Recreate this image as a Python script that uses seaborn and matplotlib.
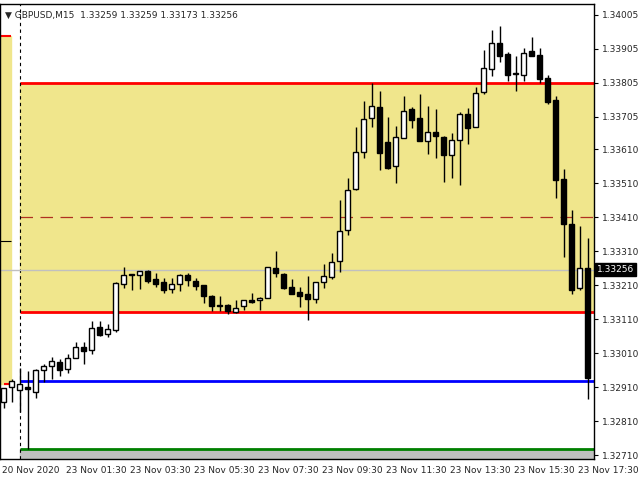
import numpy as np
import matplotlib
matplotlib.use("Agg")
import matplotlib.pyplot as plt
import seaborn as sns

# ── Data ───────────────────────────────────────────────────────────────────────
opens = [1.32867, 1.32911, 1.32903, 1.32911, 1.32895, 1.32960, 1.32972, 1.32984, 1.32963, 1.32995,
         1.33029, 1.33019, 1.33087, 1.33068, 1.33079, 1.33214, 1.33239, 1.33239, 1.33253, 1.33229,
         1.33219, 1.33198, 1.33214, 1.33239, 1.33223, 1.33210, 1.33179, 1.33150, 1.33151, 1.33132,
         1.33148, 1.33167, 1.33167, 1.33171, 1.33260, 1.33242, 1.33205, 1.33190, 1.33184, 1.33169,
         1.33219, 1.33234, 1.33282, 1.33372, 1.33492, 1.33601, 1.33701, 1.33734, 1.33631, 1.33560,
         1.33642, 1.33729, 1.33702, 1.33635, 1.33660, 1.33647, 1.33594, 1.33636, 1.33713, 1.33674,
         1.33778, 1.33845, 1.33922, 1.33890, 1.33831, 1.33829, 1.33899, 1.33887, 1.33819, 1.33755,
         1.33523, 1.33390, 1.33201, 1.33260]
highs = [1.32908, 1.32934, 1.32968, 1.32958, 1.32965, 1.32978, 1.32999, 1.32993, 1.33009, 1.33043,
         1.33043, 1.33105, 1.33105, 1.33097, 1.33220, 1.33264, 1.33242, 1.33252, 1.33255, 1.33245,
         1.33232, 1.33232, 1.33244, 1.33245, 1.33232, 1.33210, 1.33181, 1.33179, 1.33155, 1.33167,
         1.33166, 1.33187, 1.33175, 1.33263, 1.33311, 1.33245, 1.33229, 1.33206, 1.33238, 1.33219,
         1.33272, 1.33304, 1.33461, 1.33525, 1.33676, 1.33752, 1.33805, 1.33781, 1.33705, 1.33679,
         1.33766, 1.33734, 1.33772, 1.33737, 1.33729, 1.33650, 1.33659, 1.33720, 1.33732, 1.33792,
         1.33902, 1.33961, 1.33973, 1.33895, 1.33884, 1.33907, 1.33940, 1.33907, 1.33829, 1.33767,
         1.33552, 1.33432, 1.33385, 1.33349]
lows = [1.32849, 1.32867, 1.32837, 1.32728, 1.32877, 1.32925, 1.32935, 1.32944, 1.32953, 1.32995,
        1.32977, 1.33009, 1.33061, 1.33058, 1.33071, 1.33203, 1.33197, 1.33200, 1.33218, 1.33206,
        1.33188, 1.33188, 1.33194, 1.33209, 1.33196, 1.33157, 1.33134, 1.33134, 1.33124, 1.33128,
        1.33137, 1.33159, 1.33137, 1.33171, 1.33235, 1.33198, 1.33184, 1.33147, 1.33109, 1.33159,
        1.33203, 1.33228, 1.33250, 1.33357, 1.33490, 1.33585, 1.33676, 1.33549, 1.33553, 1.33512,
        1.33642, 1.33671, 1.33634, 1.33597, 1.33585, 1.33515, 1.33524, 1.33506, 1.33625, 1.33674,
        1.33771, 1.33824, 1.33865, 1.33812, 1.33782, 1.33812, 1.33884, 1.33804, 1.33744, 1.33467,
        1.33294, 1.33184, 1.33196, 1.32876]
closes = [1.32908, 1.32927, 1.32919, 1.32905, 1.32960, 1.32972, 1.32987, 1.32960, 1.32995, 1.33028,
          1.33018, 1.33084, 1.33065, 1.33081, 1.33216, 1.33239, 1.33242, 1.33251, 1.33221, 1.33215,
          1.33196, 1.33214, 1.33239, 1.33224, 1.33209, 1.33179, 1.33148, 1.33149, 1.33135, 1.33144,
          1.33166, 1.33161, 1.33172, 1.33263, 1.33245, 1.33201, 1.33185, 1.33177, 1.33170, 1.33219,
          1.33237, 1.33279, 1.33370, 1.33489, 1.33601, 1.33699, 1.33736, 1.33600, 1.33556, 1.33646,
          1.33723, 1.33697, 1.33635, 1.33660, 1.33650, 1.33594, 1.33636, 1.33713, 1.33671, 1.33775,
          1.33848, 1.33922, 1.33885, 1.33829, 1.33833, 1.33892, 1.33885, 1.33817, 1.33750, 1.33520,
          1.33390, 1.33197, 1.33260, 1.32937]

zone_top, zone_bottom = 1.33805, 1.33132
zone_mid = 1.33411
blue_level = 1.32929
green_level = 1.32727
bid = 1.33256
prev_zone_top, prev_zone_bottom = 1.33943, 1.32920
prev_mark = 1.33340

price_ticks = [1.34005, 1.33905, 1.33805, 1.33705, 1.33610, 1.33510, 1.33410,
               1.33310, 1.33210, 1.33110, 1.33010, 1.32910, 1.32810, 1.32710]
time_labels = ["20 Nov 2020", "23 Nov 01:30", "23 Nov 03:30", "23 Nov 05:30", "23 Nov 07:30",
               "23 Nov 09:30", "23 Nov 11:30", "23 Nov 13:30", "23 Nov 15:30", "23 Nov 17:30"]
title = "\u25bc GBPUSD,M15  1.33259 1.33259 1.33173 1.33256"

# ── Plot ───────────────────────────────────────────────────────────────────────
sns.set_theme(style="white")
plt.rcParams["font.family"] = ["DejaVu Sans"]

fig = plt.figure(figsize=(6.4, 4.8), dpi=100)
ax = fig.add_axes([0.0, 0.04375, 594 / 640, 455 / 480])

x = np.arange(len(opens))
xmin, xmax = -0.44, 73.8
ymin, ymax = 1.32699, 1.34037

# zones
ax.axhspan(zone_bottom, zone_top, xmin=(2 - xmin) / (xmax - xmin), color="#f0e68c", zorder=0)
ax.axhspan(prev_zone_bottom, prev_zone_top, xmax=(0.94 - xmin) / (xmax - xmin), color="#f0e68c", zorder=0)
ax.axhspan(ymin, green_level, xmin=(2 - xmin) / (xmax - xmin), color="#c0c0c0", zorder=0)

ax.hlines([zone_top, zone_bottom], 2, xmax, color="red", lw=2, zorder=1)
ax.hlines(zone_mid, 2, xmax, color="#b03020", lw=0.9, linestyles=(0, (10, 6)), zorder=1)
ax.hlines(blue_level, 2, xmax, color="blue", lw=2, zorder=1)
ax.hlines(green_level, 2, xmax, color="green", lw=2, zorder=1)
ax.hlines(prev_zone_top, xmin, 0.94, color="red", lw=1.5, zorder=1)
ax.hlines(prev_zone_bottom, 0, 0.94, color="red", lw=1.5, zorder=1)
ax.hlines(prev_mark, xmin, 0.9, color="black", lw=0.8, zorder=1)
ax.axvline(2, color="black", lw=0.8, ls=(0, (3, 3)), zorder=1)
ax.axhline(bid, color="#c0c0c0", lw=1, zorder=1)

# candles
o, h, l, c = map(np.array, (opens, highs, lows, closes))
bull = c >= o
ax.vlines(x, l, h, color="black", lw=1, zorder=2)
bottoms = np.minimum(o, c)
heights = np.maximum(np.abs(c - o), 0.000015)
ax.bar(x[bull], heights[bull], bottom=bottoms[bull], width=0.6,
       color="white", edgecolor="black", lw=1, zorder=3)
ax.bar(x[~bull], heights[~bull], bottom=bottoms[~bull], width=0.6,
       color="black", edgecolor="black", lw=1, zorder=3)

ax.set_xlim(xmin, xmax)
ax.set_ylim(ymin, ymax)

ax.yaxis.tick_right()
ax.set_yticks(price_ticks)
ax.set_yticklabels([f"{p:.5f}" for p in price_ticks], fontsize=6.5)
ax.set_xticks(np.arange(0, len(opens), 8))
ax.set_xticklabels(time_labels, fontsize=6.5, ha="left")
ax.tick_params(axis="both", length=3, width=0.8, color="black", pad=1, direction="out")
ax.tick_params(axis="x", pad=2)
ax.tick_params(axis="y", bottom=False, pad=3)
for lab in ax.get_xticklabels():
    lab.set_x(lab.get_position()[0])
import matplotlib.transforms as mtrans
offset = mtrans.ScaledTranslation(-2 / 100, 0, fig.dpi_scale_trans)
for lab in ax.get_xticklabels():
    lab.set_transform(lab.get_transform() + offset)
for side in ax.spines.values():
    side.set_color("black")
    side.set_linewidth(1)

ax.text(xmax + 0.35, bid, f"{bid:.5f}", fontsize=6.5, color="white", va="center", ha="left",
        bbox=dict(facecolor="black", edgecolor="black", pad=1.2), zorder=5, clip_on=False)
ax.text(0.008, 0.985, title, transform=ax.transAxes, fontsize=6.5, va="top", ha="left")

fig.savefig("out.png", dpi=100)
